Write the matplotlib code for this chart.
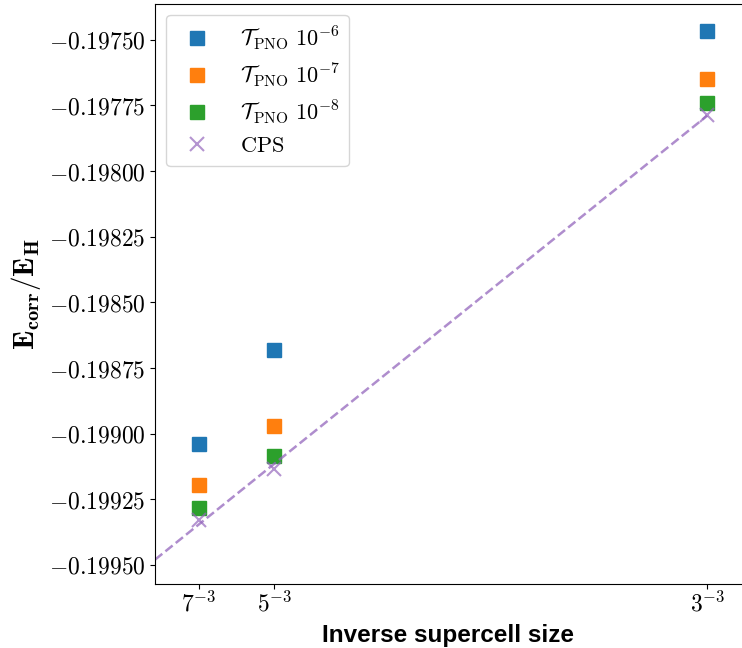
import numpy as np
import matplotlib
matplotlib.use("Agg")
import matplotlib.pyplot as plt

# Data
sizes = [7, 5, 3]
x_inv = [1.0 / s**3 for s in sizes]
tick_labels = [r"$7^{-3}$", r"$5^{-3}$", r"$3^{-3}$"]

e_pno6 = [-0.199039, -0.198681, -0.197466]
e_pno7 = [-0.199195, -0.198970, -0.197649]
e_pno8 = [-0.199283, -0.199085, -0.197740]
e_cps = [-0.199330, -0.199134, -0.197786]

plt.rcParams["mathtext.fontset"] = "cm"
plt.rcParams["font.family"] = ["DejaVu Serif"]

fig = plt.figure(figsize=(7.42, 6.48), dpi=100)
ax = fig.add_axes([0.209, 0.099, 0.79, 0.895])

ax.plot(x_inv, e_pno6, "s", color="tab:blue", ms=10, ls="none",
        label=r"$\mathcal{T}_{\rm PNO}\ 10^{-6}$")
ax.plot(x_inv, e_pno7, "s", color="tab:orange", ms=10, ls="none",
        label=r"$\mathcal{T}_{\rm PNO}\ 10^{-7}$")
ax.plot(x_inv, e_pno8, "s", color="tab:green", ms=10, ls="none",
        label=r"$\mathcal{T}_{\rm PNO}\ 10^{-8}$")
ax.plot(x_inv, e_cps, "x", color="tab:purple", alpha=0.7, ms=10, mew=1.5,
        ls="none", label=r"$\rm CPS$")

# Lineare Extrapolation der CPS-Werte
k, d = np.polyfit(x_inv, e_cps, 1)
xf = np.array([0.0, max(x_inv)])
ax.plot(xf, k * xf + d, "--", color="tab:purple", alpha=0.75, lw=1.8)

ax.set_xlim(0.0, 0.03932)
ax.set_ylim(-0.199572, -0.197363)
ax.set_xticks(x_inv)
ax.set_xticklabels(tick_labels)
ax.set_yticks(np.arange(-0.1995, -0.19749, 0.00025))
ax.yaxis.set_major_formatter(
    matplotlib.ticker.FuncFormatter(lambda v, p: r"$%.5f$" % v))
ax.tick_params(labelsize=17)
ax.tick_params(axis="x", pad=2)
ax.spines["right"].set_visible(False)

ax.set_xlabel("Inverse supercell size", fontsize=17.5, fontweight="bold",
              family="Liberation Sans", labelpad=5)
ax.set_ylabel(r"$\mathbf{E_{corr}/E_{H}}$", fontsize=21, labelpad=4)

ax.legend(loc="upper left", fontsize=16, handletextpad=0.9,
          borderpad=0.4, labelspacing=0.42)

fig.savefig("out.png", dpi=100)
